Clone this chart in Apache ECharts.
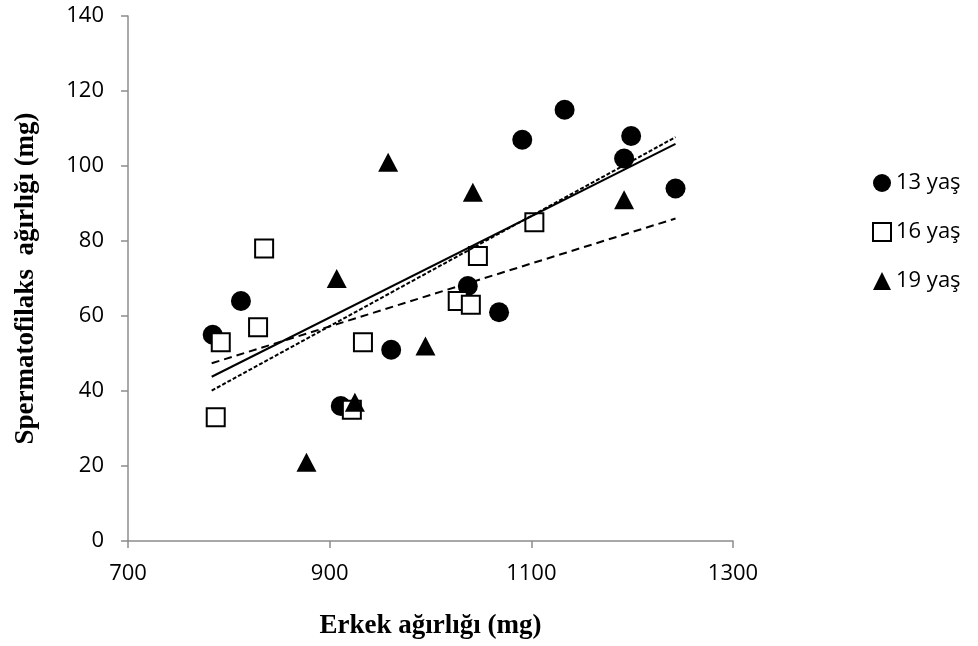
<!DOCTYPE html>
<html>
<head>
<meta charset="utf-8">
<script src="https://cdn.jsdelivr.net/npm/echarts@6/dist/echarts.min.js"></script>
<style>
  html, body { margin: 0; padding: 0; background: #fff; }
  #chart { width: 978px; height: 646px; }
</style>
</head>
<body>
<div id="chart"></div>
<script>
// Male weight (mg) vs spermatophylax weight (mg), by age group
const ageLabels = ['13 yaş', '16 yaş', '19 yaş'];

const weight13 = [784, 812, 911, 961, 1037, 1068, 1091, 1133, 1192, 1199, 1243];
const sperm13  = [55, 64, 36, 51, 68, 61, 107, 115, 102, 108, 94];

const weight16 = [787, 792, 829, 835, 922, 933, 1027, 1040, 1047, 1103];
const sperm16  = [33, 53, 57, 78, 35, 53, 64, 63, 76, 85];

const weight19 = [877, 907, 925, 958, 995, 1042, 1192];
const sperm19  = [21, 70, 37, 101, 52, 93, 91];

// Fitted trend lines: values at the two ends of the fitted range
const trendX      = [783, 1243];
const trendSolid  = [43.8, 105.9];
const trendShort  = [40.1, 107.7];
const trendLong   = [47.4, 86.0];

const xTicks = [700, 900, 1100, 1300];

const pairs = (xs, ys) => xs.map((x, i) => [x, ys[i]]);

const chart = echarts.init(document.getElementById('chart'));
const axisGrey = '#8c8c8c';
const labelFont = '"Open Sans", sans-serif';
const titleFont = '"Liberation Serif", "Times New Roman", serif';

chart.setOption({
  animation: false,
  backgroundColor: '#fff',
  grid: { left: 128, top: 16, right: 245, bottom: 105 },
  xAxis: {
    type: 'value',
    min: 700, max: 1300,
    splitLine: { show: false },
    axisLine: { lineStyle: { color: axisGrey, width: 1.5 } },
    axisTick: { customValues: xTicks, length: 7, lineStyle: { color: axisGrey, width: 1.5 } },
    axisLabel: {
      customValues: xTicks, color: '#000', fontFamily: labelFont, fontSize: 22, margin: 22,
      formatter: v => String(v)
    },
    name: 'Erkek ağırlığı (mg)',
    nameLocation: 'middle',
    nameGap: 72,
    nameTextStyle: { fontFamily: titleFont, fontWeight: 'bold', fontSize: 27, color: '#000' }
  },
  yAxis: {
    type: 'value',
    min: 0, max: 140, interval: 20,
    splitLine: { show: false },
    axisLine: { show: true, lineStyle: { color: axisGrey, width: 1.5 } },
    axisTick: { show: true, length: 7, lineStyle: { color: axisGrey, width: 1.5 } },
    axisLabel: { color: '#000', fontFamily: labelFont, fontSize: 22, margin: 24 },
    name: 'Spermatofilaks  ağırlığı (mg)',
    nameLocation: 'middle',
    nameGap: 88,
    nameTextStyle: { fontFamily: titleFont, fontWeight: 'bold', fontSize: 27, color: '#000' }
  },
  legend: {
    data: ageLabels,
    orient: 'vertical',
    left: 867, top: 167,
    itemGap: 27,
    itemWidth: 18, itemHeight: 18,
    textStyle: { fontFamily: labelFont, fontSize: 22, color: '#000' }
  },
  series: [
    {
      name: ageLabels[0], type: 'scatter', symbol: 'circle', symbolSize: 20,
      itemStyle: { color: '#000', opacity: 1 },
      data: pairs(weight13, sperm13), z: 3
    },
    {
      name: ageLabels[1], type: 'scatter', symbol: 'rect', symbolSize: 18,
      itemStyle: { color: '#fff', borderColor: '#000', borderWidth: 2, opacity: 1 },
      data: pairs(weight16, sperm16), z: 4
    },
    {
      name: ageLabels[2], type: 'scatter', symbol: 'triangle', symbolSize: [20, 19],
      itemStyle: { color: '#000', opacity: 1 },
      data: pairs(weight19, sperm19), z: 5
    },
    {
      type: 'line', symbol: 'none', silent: true, z: 6,
      lineStyle: { color: '#000', width: 2, type: 'solid' },
      data: pairs(trendX, trendSolid)
    },
    {
      type: 'line', symbol: 'none', silent: true, z: 6,
      lineStyle: { color: '#000', width: 2, type: [4, 2] },
      data: pairs(trendX, trendShort)
    },
    {
      type: 'line', symbol: 'none', silent: true, z: 6,
      lineStyle: { color: '#000', width: 2, type: [8, 5] },
      data: pairs(trendX, trendLong)
    }
  ]
});
</script>
</body>
</html>
